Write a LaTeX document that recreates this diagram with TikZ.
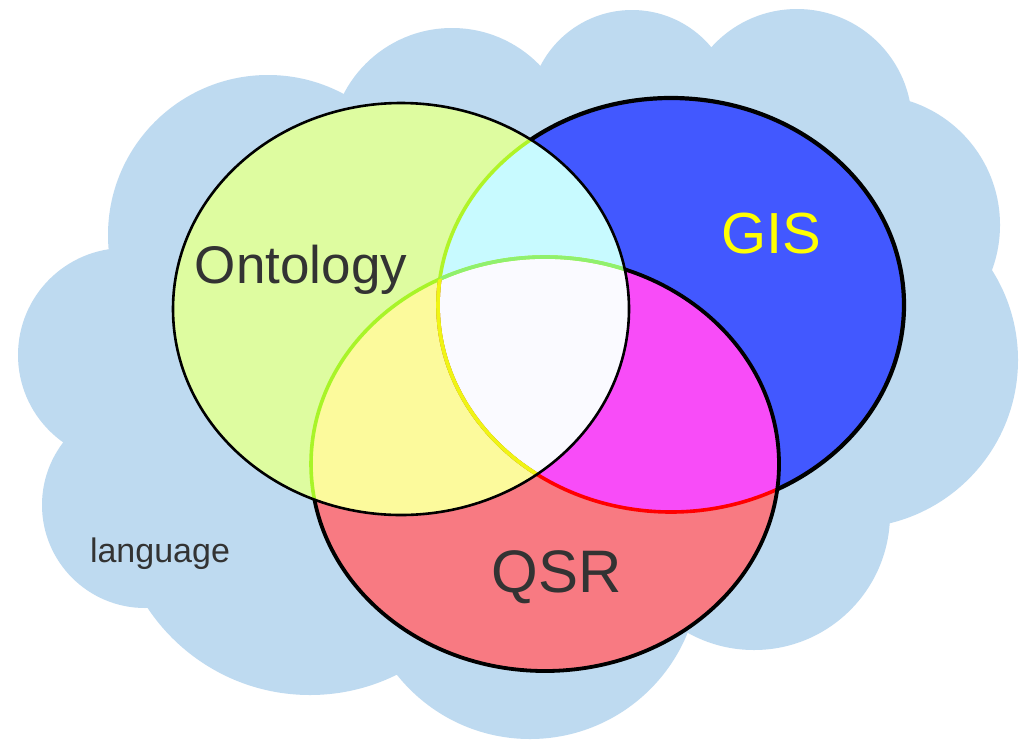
\documentclass[tikz,border=0pt]{standalone}
\usepackage{fontspec}
\setmainfont{Liberation Sans}
\definecolor{cloudblue}{RGB}{190,218,240}
\definecolor{ontfill}{RGB}{222,252,160}
\definecolor{gisfill}{RGB}{66,88,255}
\definecolor{qsrfill}{RGB}{248,122,130}
\definecolor{ogfill}{RGB}{200,250,255}
\definecolor{oqfill}{RGB}{252,250,156}
\definecolor{gqfill}{RGB}{248,76,248}
\definecolor{allfill}{RGB}{250,250,255}
\definecolor{lineA}{RGB}{176,244,40}
\definecolor{lineB}{RGB}{168,244,40}
\definecolor{lineC}{RGB}{144,240,110}
\definecolor{lineD}{RGB}{240,244,20}
\definecolor{lineE}{RGB}{255,0,0}
\definecolor{txtgray}{RGB}{51,51,51}
\definecolor{gistext}{RGB}{255,255,0}
\begin{document}
\begin{tikzpicture}[x=1pt,y=-1pt,
  lbl/.style={inner sep=0pt, anchor=base, text=txtgray},
  inner/.style={line width=3.6pt}]
\useasboundingbox (0,0) rectangle (1027,742);
\fill[white] (0,0) rectangle (1027,742);
\def\ont{(401,309) ellipse [x radius=228pt, y radius=206pt]}
\def\gis{(671,305) ellipse [x radius=233pt, y radius=207pt]}
\def\qsr{(545,464) ellipse [x radius=234pt, y radius=207pt]}
% cloud
\fill[cloudblue]
  (268,235) circle [radius=160pt]
  (452,150) circle [radius=122pt]
  (632,113) circle [radius=103pt]
  (797,124) circle [radius=115pt]
  (870,225) circle [radius=130pt]
  (850,360) circle [radius=168pt]
  (754,514) circle [radius=136pt]
  (530,569) circle [radius=170pt]
  (310,500) circle [radius=195pt]
  (145,505) circle [radius=103pt]
  (125,355) circle [radius=107pt]
  (520,380) ellipse [x radius=400pt, y radius=250pt];
% fills
\fill[ontfill] \ont;
\fill[gisfill] \gis;
\fill[qsrfill] \qsr;
\begin{scope}
  \clip \ont;
  \fill[ogfill] \gis;
  \fill[oqfill] \qsr;
  \begin{scope}\clip \gis; \fill[allfill] \qsr;\end{scope}
\end{scope}
\begin{scope}
  \clip \gis;
  \fill[gqfill] \qsr;
  \begin{scope}\clip \ont; \fill[allfill] \qsr;\end{scope}
\end{scope}
% coloured inner borders
\begin{scope}
  \clip \qsr;
  \draw[inner, lineE] \gis;
\end{scope}
\begin{scope}
  \clip \ont;
  \draw[inner, lineA] \gis;
  \draw[inner, lineB] \qsr;
  \begin{scope}\clip \gis; \draw[inner, lineC] \qsr;\end{scope}
  \begin{scope}\clip \qsr; \draw[inner, lineD] \gis;\end{scope}
\end{scope}
% black borders outside
\begin{scope}[even odd rule]
  \clip (-10,-10) rectangle (1040,760) \ont;
  \draw[line width=3.8pt] \qsr;
  \begin{scope}[even odd rule]
    \clip (-10,-10) rectangle (1040,760) \qsr;
    \draw[line width=4.2pt] \gis;
  \end{scope}
\end{scope}
\draw[line width=2.6pt] \ont;
% labels
\node[lbl, font=\fontsize{53}{60}\selectfont] (ont) at (301,283) {Ontology};
\node[lbl, text=gistext, font=\fontsize{58}{66}\selectfont] (gis) at (771,253) {GIS};
\node[lbl, font=\fontsize{60}{70}\selectfont] (qsr) at (557,592) {QSR};
\node[lbl, font=\fontsize{34}{40}\selectfont] (lang) at (160,562) {language};
\end{tikzpicture}
\end{document}
